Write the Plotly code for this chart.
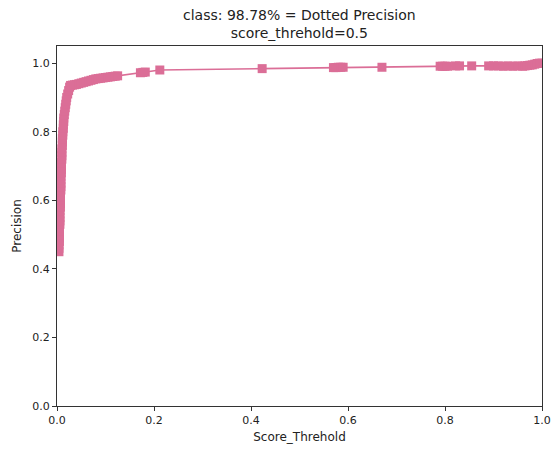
import plotly.graph_objects as go

# Score thresholds and the precision measured at each one
score_threshold = [
    # steep rise close to zero
    0.004, 0.004, 0.004, 0.005, 0.005, 0.005, 0.005, 0.005, 0.006, 0.006,
    0.006, 0.006, 0.006, 0.007, 0.007, 0.007, 0.007, 0.007, 0.008, 0.008,
    0.008, 0.008, 0.008, 0.009, 0.009, 0.009, 0.009, 0.010, 0.010, 0.010,
    0.010, 0.011, 0.011, 0.011, 0.012, 0.012, 0.013, 0.013, 0.014, 0.014,
    0.015, 0.016, 0.017, 0.018, 0.019, 0.020, 0.022, 0.024, 0.026,
    # knee and slow climb
    0.028, 0.032, 0.036, 0.040, 0.045, 0.050, 0.055, 0.060, 0.065, 0.070,
    0.075, 0.080, 0.085, 0.090, 0.095, 0.100, 0.105, 0.110, 0.115, 0.120,
    0.125, 0.172, 0.177, 0.182, 0.212, 0.423,
    0.570, 0.575, 0.580, 0.585, 0.590, 0.670,
    0.790, 0.795, 0.800, 0.805, 0.822, 0.830, 0.855,
    0.890, 0.900, 0.910, 0.920, 0.930, 0.940, 0.950, 0.960, 0.965, 0.970,
    0.975, 0.980, 0.985, 0.990, 0.995, 1.000,
]
precision = [
    0.45, 0.46, 0.47, 0.48, 0.49, 0.50, 0.51, 0.52, 0.53, 0.54,
    0.55, 0.56, 0.57, 0.58, 0.59, 0.60, 0.61, 0.62, 0.63, 0.64,
    0.65, 0.66, 0.67, 0.68, 0.69, 0.70, 0.71, 0.72, 0.73, 0.74,
    0.75, 0.76, 0.77, 0.78, 0.79, 0.80, 0.81, 0.82, 0.83, 0.84,
    0.85, 0.86, 0.87, 0.88, 0.89, 0.90, 0.91, 0.92, 0.93,
    0.935, 0.936, 0.937, 0.938, 0.940, 0.942, 0.944, 0.946, 0.948, 0.950,
    0.952, 0.954, 0.955, 0.956, 0.957, 0.958, 0.959, 0.960, 0.961, 0.962,
    0.963, 0.972, 0.973, 0.974, 0.980, 0.984,
    0.987, 0.987, 0.988, 0.988, 0.988, 0.988,
    0.991, 0.991, 0.991, 0.991, 0.992, 0.992, 0.992,
    0.992, 0.992, 0.992, 0.991, 0.992, 0.991, 0.992, 0.991, 0.992, 0.993,
    0.994, 0.995, 0.997, 0.999, 1.000, 1.000,
]

tick_vals = [0.0, 0.2, 0.4, 0.6, 0.8, 1.0]
tick_text = ["0.0", "0.2", "0.4", "0.6", "0.8", "1.0"]

pink = "#DB6E97"
axis_color = "#333333"
font_family = "DejaVu Sans"

fig = go.Figure()
fig.add_trace(go.Scatter(
    x=score_threshold,
    y=precision,
    mode="lines+markers",
    line=dict(color=pink, width=1.6),
    marker=dict(symbol="square", size=9, color=pink),
    cliponaxis=True,
    showlegend=False,
))

axis_common = dict(
    showgrid=False,
    zeroline=False,
    showline=True,
    linecolor=axis_color,
    linewidth=1,
    mirror=True,
    ticks="outside",
    ticklen=4,
    tickcolor=axis_color,
    tickvals=tick_vals,
    ticktext=tick_text,
    tickfont=dict(family=font_family, size=11, color="#222222"),
    automargin=False,
)

fig.update_layout(
    width=557,
    height=450,
    margin=dict(l=57, r=15, t=46, b=44),
    paper_bgcolor="white",
    plot_bgcolor="white",
    font=dict(family=font_family, color="#222222"),
    xaxis=dict(
        range=[0, 1],
        title=dict(text="Score_Threhold", font=dict(family=font_family, size=12), standoff=6),
        **axis_common,
    ),
    yaxis=dict(
        range=[0, 1.05],
        title=dict(text="Precision", font=dict(family=font_family, size=12), standoff=8),
        **axis_common,
    ),
    annotations=[
        dict(
            text="class: 98.78% = Dotted Precision<br>score_threhold=0.5",
            xref="paper", yref="paper",
            x=0.5, y=1.0,
            xanchor="center", yanchor="bottom",
            yshift=3,
            showarrow=False,
            font=dict(family=font_family, size=14, color="#222222"),
        )
    ],
)

fig.write_html("out.html")
